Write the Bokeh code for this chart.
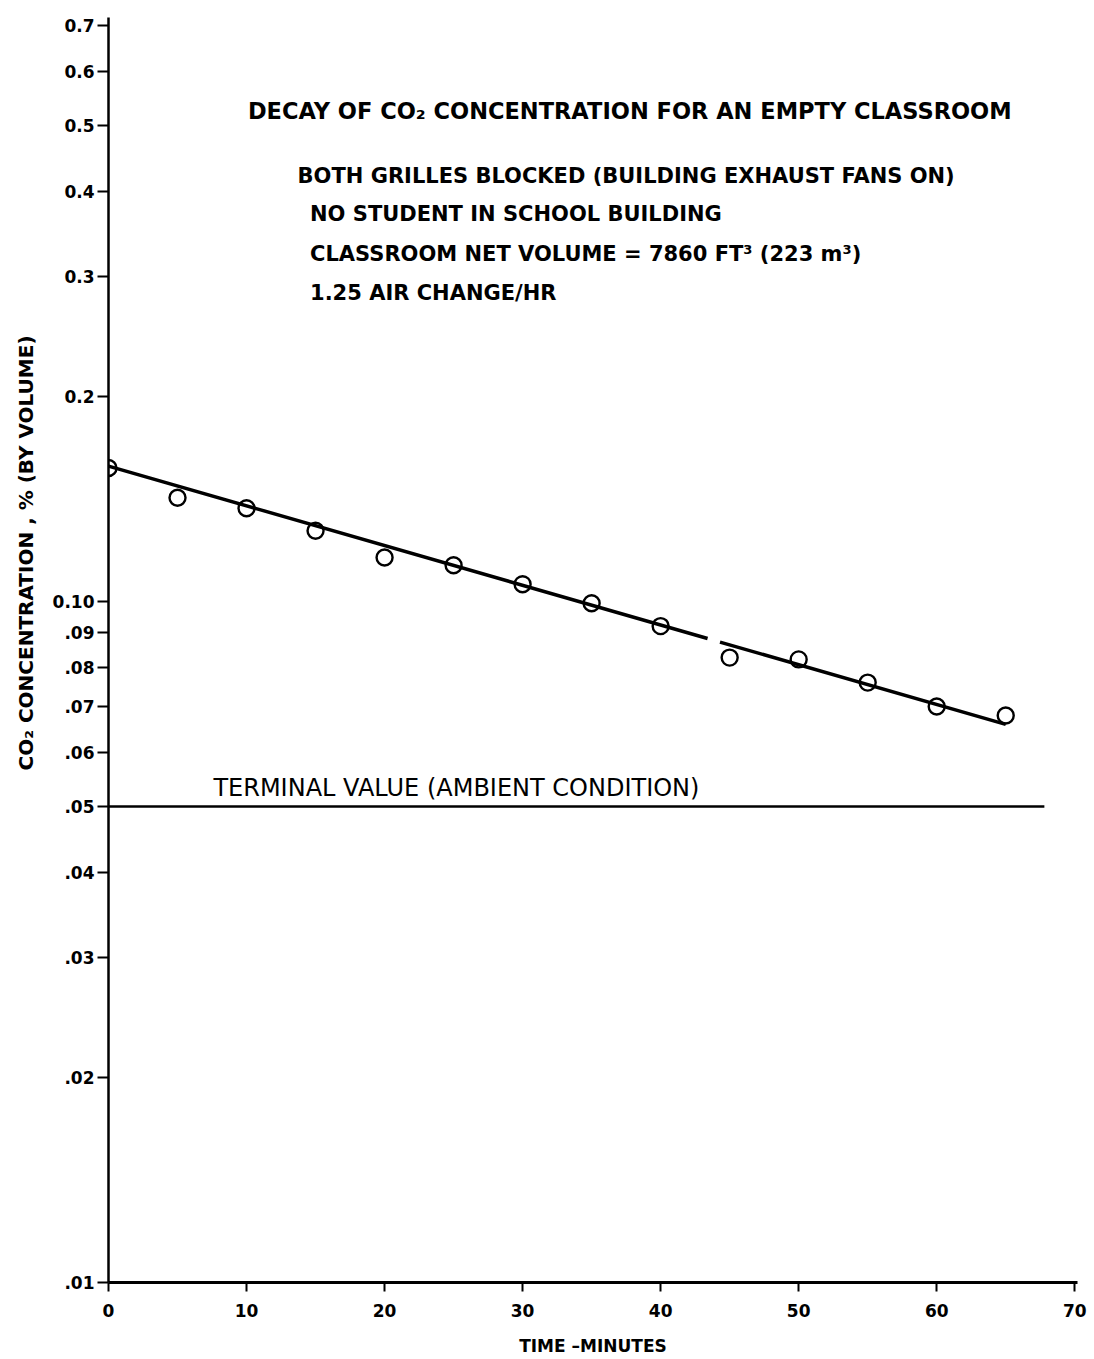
import numpy as np
from bokeh.plotting import figure
from bokeh.models import Range1d, FixedTicker, Label, Title
from bokeh.embed import file_html
from bokeh.resources import INLINE

# ---- data ----
time_min = [0, 5, 10, 15, 20, 25, 30, 35, 40, 45, 50, 55, 60, 65]
co2_pct = [0.157, 0.142, 0.137, 0.127, 0.116, 0.113, 0.106, 0.0994, 0.092,
           0.0827, 0.0822, 0.076, 0.0701, 0.068]
fit_start = (0.0, 0.158)
fit_end = (65.0, 0.066)
fit_gap = (43.4, 44.3)
terminal_value = 0.05
terminal_x = [0, 67.8]

x_ticks = [0, 10, 20, 30, 40, 50, 60, 70]
y_ticks = [0.7, 0.6, 0.5, 0.4, 0.3, 0.2, 0.1, 0.09, 0.08, 0.07, 0.06, 0.05,
           0.04, 0.03, 0.02, 0.01]
y_tick_labels = ["0.7", "0.6", "0.5", "0.4", "0.3", "0.2", "0.10", ".09", ".08",
                 ".07", ".06", ".05", ".04", ".03", ".02", ".01"]

FONT = "DejaVu Sans"

p = figure(frame_width=969, frame_height=1265,
           min_border_left=108, min_border_top=17, min_border_right=14,
           min_border_bottom=75,
           x_range=Range1d(0, 70.2), y_range=Range1d(0.01, 0.72),
           y_axis_type="log", output_backend="svg", toolbar_location=None)
p.grid.visible = False
p.outline_line_color = None
p.background_fill_color = "white"
p.border_fill_color = "white"

# axes
p.xaxis.ticker = FixedTicker(ticks=x_ticks)
p.xaxis.major_tick_out = 9
p.xaxis.major_tick_in = 0
p.xaxis.minor_tick_line_color = None
p.xaxis.axis_line_width = 3
p.xaxis.major_tick_line_width = 2
p.xaxis.major_label_text_font = FONT
p.xaxis.major_label_text_font_size = "17px"
p.xaxis.major_label_text_font_style = "bold"
p.xaxis.major_label_text_color = "black"
p.xaxis.major_label_standoff = 12
p.xaxis.axis_label = "TIME \u2013MINUTES"
p.xaxis.axis_label_text_font = FONT
p.xaxis.axis_label_text_font_size = "17px"
p.xaxis.axis_label_text_font_style = "bold"
p.xaxis.axis_label_text_color = "black"
p.xaxis.axis_label_standoff = 16

p.yaxis.ticker = FixedTicker(ticks=y_ticks)
p.yaxis.major_label_overrides = {t: l for t, l in zip(y_ticks, y_tick_labels)}
p.yaxis.major_tick_out = 11
p.yaxis.major_tick_in = 0
p.yaxis.minor_tick_line_color = None
p.yaxis.axis_line_width = 2.5
p.yaxis.major_tick_line_width = 2
p.yaxis.major_label_text_font = FONT
p.yaxis.major_label_text_font_size = "17px"
p.yaxis.major_label_text_font_style = "bold"
p.yaxis.major_label_text_color = "black"
p.yaxis.major_label_standoff = 3

# y-axis title as a side title (positioned along the axis with offset)
ytitle = Title(text="CO\u2082 CONCENTRATION , % (BY VOLUME)", align="left",
               offset=512, text_font=FONT, text_font_size="20px",
               text_font_style="bold", text_color="black", standoff=23)
p.add_layout(ytitle, "left")

# terminal line
p.line(terminal_x, [terminal_value, terminal_value], line_color="black", line_width=2.5)

# fit line with a small gap (log-linear)
lx0, ly0 = fit_start
lx1, ly1 = fit_end
k = (np.log10(ly1) - np.log10(ly0)) / (lx1 - lx0)
seg_x = [lx0, fit_gap[0], np.nan, fit_gap[1], lx1]
seg_y = [10 ** (np.log10(ly0) + k * (x - lx0)) if not np.isnan(x) else np.nan for x in seg_x]
p.line(seg_x, seg_y, line_color="black", line_width=3.5)

# data points
p.scatter(time_min, co2_pct, marker="circle", size=16, fill_color=None,
          line_color="black", line_width=2.4)

# annotations
def add_label(x, y, text, size, **kw):
    p.add_layout(Label(x=x, y=y, text=text, text_font=FONT, text_font_size=size,
                       text_color="black", text_baseline="middle", **kw))

add_label(10.1, 0.524, "DECAY OF CO\u2082 CONCENTRATION FOR AN EMPTY CLASSROOM", "22.5px",
          text_font_style="bold")
add_label(13.7, 0.422, "BOTH GRILLES BLOCKED (BUILDING EXHAUST FANS ON)", "21px",
          text_font_style="bold")
add_label(14.6, 0.371, "NO STUDENT IN SCHOOL BUILDING", "21px", text_font_style="bold")
add_label(14.6, 0.324, "CLASSROOM NET VOLUME = 7860 FT\u00b3 (223 m\u00b3)", "21px",
          text_font_style="bold")
add_label(14.6, 0.284, "1.25 AIR CHANGE/HR", "21px", text_font_style="bold")
add_label(7.6, 0.0533, "TERMINAL VALUE (AMBIENT CONDITION)", "24px")

open("out.html", "w").write(file_html(p, INLINE))
